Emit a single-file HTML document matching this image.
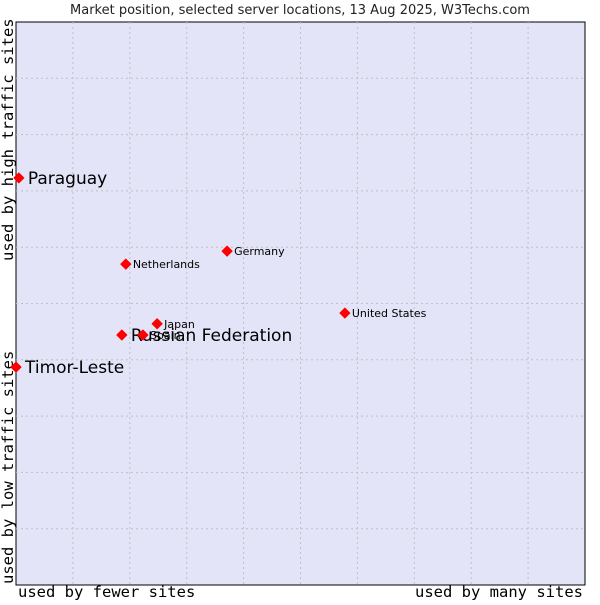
<!DOCTYPE html>
<html><head><meta charset="utf-8"><style>
body{margin:0;background:#fff;}
svg text{font-family:"DejaVu Sans","Liberation Sans",sans-serif;}
.mono{font-family:"DejaVu Sans Mono","Liberation Mono",monospace !important;}
</style></head><body>
<svg id="chart" width="600" height="600" xmlns="http://www.w3.org/2000/svg">
<text x="300" y="14" text-anchor="middle" font-size="13" fill="#222">Market position, selected server locations, 13 Aug 2025, W3Techs.com</text>
<rect x="16" y="22" width="569" height="563" fill="#e4e4f8" stroke="#000" stroke-width="1"/>
<g id="grid"></g>
<text class="mono" x="18" y="597" font-size="15.5" fill="#000">used by fewer sites</text>
<text class="mono" x="583" y="597" text-anchor="end" font-size="15.5" fill="#000">used by many sites</text>
<text class="mono" transform="translate(13,584) rotate(-90)" font-size="15.5" fill="#000">used by low traffic sites</text>
<text class="mono" transform="translate(13,261) rotate(-90)" font-size="15.5" fill="#000">used by high traffic sites</text>
<g id="points"></g>
</svg>
<script>
const countries=["Paraguay","Timor-Leste","Russian Federation","Spain","Japan","Netherlands","Germany","United States"];
const xValues=[0.5,0,18.6,22.3,24.8,19.3,37.1,57.8];
const yValues=[72.3,38.7,44.4,44.4,46.4,57.0,59.3,48.3];
const largeLabel=[true,true,true,false,false,false,false,false];
const NS="http://www.w3.org/2000/svg";
const L=16,T=22,W=569,H=563;
const sx=v=>L+v/100*W, sy=v=>T+H-v/100*H;
const grid=document.getElementById('grid');
for(let i=1;i<10;i++){
  const v=document.createElementNS(NS,'line');
  
  
  const x=L+i*W/10;
  v.setAttribute('x1',x);v.setAttribute('x2',x);v.setAttribute('y1',T);v.setAttribute('y2',T+H);
  v.setAttribute('stroke','#c0c0c0');v.setAttribute('stroke-dasharray','2,3');
  grid.appendChild(v);
  const h=document.createElementNS(NS,'line');
  
  
  const y=T+i*H/10;
  h.setAttribute('x1',L);h.setAttribute('x2',L+W);h.setAttribute('y1',y);h.setAttribute('y2',y);
  h.setAttribute('stroke','#c0c0c0');h.setAttribute('stroke-dasharray','2,3');
  grid.appendChild(h);
}
const pts=document.getElementById('points');
countries.forEach((c,i)=>{
  const x=sx(xValues[i]),y=sy(yValues[i]);
  const m=document.createElementNS(NS,'path');
  
  
  m.setAttribute('d',`M${x},${y-5}L${x+5},${y}L${x},${y+5}L${x-5},${y}Z`);
  m.setAttribute('fill','#f00');
  m.setAttribute('stroke','#f00');
  m.setAttribute('stroke-linejoin','round');
  m.setAttribute('stroke-width','1');
  pts.appendChild(m);
  const t=document.createElementNS(NS,'text');
  
  
  t.setAttribute('x',x+(largeLabel[i]?9:7));
  t.setAttribute('y',y+(largeLabel[i]?6:4));
  t.setAttribute('font-size',largeLabel[i]?17:11);
  t.setAttribute('fill','#000');
  t.textContent=c;
  pts.appendChild(t);
});
</script>
</body></html>
